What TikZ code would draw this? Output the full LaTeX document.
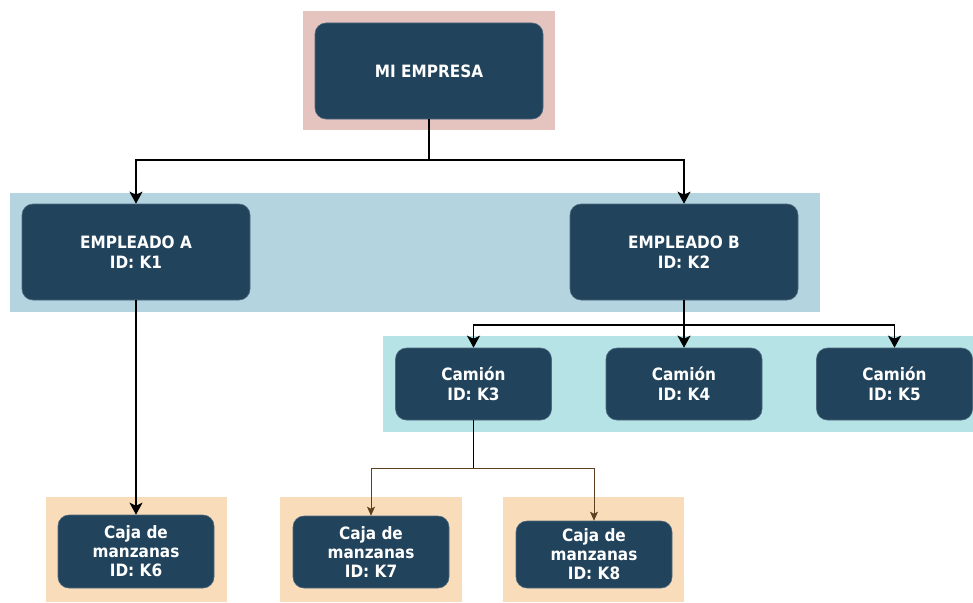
\documentclass[tikz,border=0pt]{standalone}
\usepackage{fontspec}
\setmainfont{DejaVu Sans}
\newfontfamily\boxfont{DejaVu Sans Condensed}[BoldFont={DejaVu Sans Condensed Bold}]
\usetikzlibrary{arrows.meta}
\definecolor{navy}{HTML}{22435C}
\definecolor{pinkband}{HTML}{E5C3BF}
\definecolor{blueband}{HTML}{B4D4E0}
\definecolor{tealband}{HTML}{B5E3E6}
\definecolor{sandband}{HTML}{F9DDBB}
\definecolor{brownline}{HTML}{5C4022}
\tikzset{
  unit/.style={fill=navy, draw=navy!80!white, line width=0.6pt, rounded corners=11pt,
    text=white, align=center, inner sep=0pt,
    font=\boxfont\bfseries\fontsize{17}{20}\selectfont},
  big/.style={unit, minimum width=228pt, minimum height=96pt},
  small/.style={unit, minimum width=156pt, minimum height=72pt},
  crate/.style={unit, minimum width=156pt, font=\boxfont\bfseries\fontsize{17}{19}\selectfont},
  mainlink/.style={line width=1.7pt, -{Stealth[length=12pt,width=13pt,inset=3pt]}},
  sublink/.style={line width=1pt, draw=brownline, -{Stealth[length=9pt,width=8pt,inset=2pt]}}
}
\begin{document}
\begin{tikzpicture}[x=1pt,y=-1pt]
\useasboundingbox (0,0) rectangle (973,602);
\fill[white] (0,0) rectangle (973,602);

% background bands
\fill[pinkband] (303,11) rectangle (555,130);
\fill[blueband] (10,193) rectangle (820,312);
\fill[tealband] (383,336) rectangle (973,432);
\fill[sandband] (46,497) rectangle (227,602);
\fill[sandband] (280,497) rectangle (462,602);
\fill[sandband] (503,497) rectangle (684,602);

% nodes
\node[big] (top) at (429,71) {MI EMPRESA};
\node[big] (ea) at (136,252) {EMPLEADO A\\ID: K1};
\node[big] (eb) at (684,252) {EMPLEADO B\\ID: K2};
\node[small] (k3) at (473.5,384) {Camión\\ID: K3};
\node[small] (k4) at (684,384) {Camión\\ID: K4};
\node[small] (k5) at (894.5,384) {Camión\\ID: K5};
\node[crate, minimum height=73pt] (k6) at (136,551.5) {Caja de\\manzanas\\ID: K6};
\node[crate, minimum height=72pt] (k7) at (371,552) {Caja de\\manzanas\\ID: K7};
\node[crate, minimum height=67pt] (k8) at (594,554.5) {Caja de\\manzanas\\ID: K8};

% junction points
\coordinate (j1) at (429,160);
\coordinate (j2) at (684,325);
\coordinate (j3) at (473.5,468);

% connectors
\draw[line width=1.7pt] (top.south) -- (j1);
\draw[mainlink] (j1) -| (ea.north);
\draw[mainlink] (j1) -| (eb.north);
\draw[mainlink] (ea.south) -- (k6.north);
\draw[line width=1.7pt] (eb.south) -- (j2);
\draw[mainlink] (j2) -| (k3.north);
\draw[mainlink] (j2) -- (k4.north);
\draw[mainlink] (j2) -| (k5.north);
\draw[line width=1.3pt] (k3.south) -- (j3);
\draw[sublink] (j3) -| (k7.north);
\draw[sublink] (j3) -| (k8.north);
\end{tikzpicture}
\end{document}
